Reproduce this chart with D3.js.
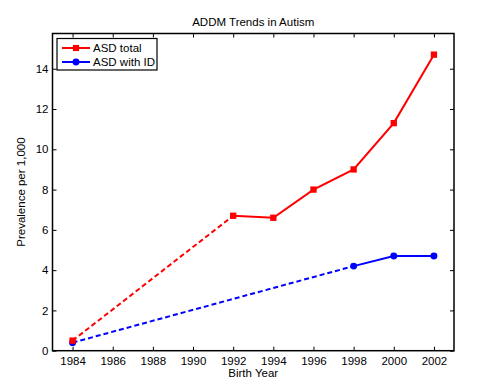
<!DOCTYPE html>
<html><head><meta charset="utf-8">
<script src="https://cdn.jsdelivr.net/npm/d3@7"></script>
<style>body{margin:0;background:#fff;} svg{display:block;font-family:"Liberation Sans",Arial,sans-serif;}</style>
</head><body>
<svg id="c" width="499" height="390"></svg>
<script>
const totalYears = [1984, 1992, 1994, 1996, 1998, 2000, 2002];
const totalValues = [0.5, 6.7, 6.6, 8.0, 9.0, 11.3, 14.7];
const idYears = [1984, 1998, 2000, 2002];
const idValues = [0.4, 4.2, 4.7, 4.7];
const xTicks = [1984, 1986, 1988, 1990, 1992, 1994, 1996, 1998, 2000, 2002];
const yTicks = [0, 2, 4, 6, 8, 10, 12, 14];
const seriesNames = ["ASD total", "ASD with ID"];

const svg = d3.select("#c");
const L = 52.5, R = 454, T = 33.5, B = 350.7;
const x = d3.scaleLinear().domain([1983, 2003]).range([L, R]);
const y = d3.scaleLinear().domain([0, 15.75]).range([B, T]);

const total = totalYears.map((d, i) => ({x: d, y: totalValues[i]}));
const idd = idYears.map((d, i) => ({x: d, y: idValues[i]}));
const line = d3.line().x(d => x(d.x)).y(d => y(d.y));

// axes
const fs = 11.5;
svg.append("g").attr("transform", `translate(0,${B})`)
  .call(d3.axisBottom(x).tickValues(xTicks).tickFormat(d3.format("d")).tickSizeInner(-4).tickSizeOuter(0).tickPadding(6))
  .call(g => { g.select(".domain").remove(); g.selectAll("text").attr("font-size", fs).attr("fill", "#000").attr("font-family", "inherit"); g.selectAll("line").attr("stroke", "#000"); });
svg.append("g").attr("transform", `translate(0,${T})`)
  .call(d3.axisTop(x).tickValues(xTicks).tickFormat("").tickSizeInner(-4).tickSizeOuter(0))
  .call(g => { g.select(".domain").remove(); g.selectAll("line").attr("stroke", "#000"); });
svg.append("g").attr("transform", `translate(${L},0)`)
  .call(d3.axisLeft(y).tickValues(yTicks).tickFormat(d3.format("d")).tickSizeInner(-4).tickSizeOuter(0).tickPadding(4))
  .call(g => { g.select(".domain").remove(); g.selectAll("text").attr("font-size", fs).attr("fill", "#000").attr("font-family", "inherit"); g.selectAll("line").attr("stroke", "#000"); });
svg.append("g").attr("transform", `translate(${R},0)`)
  .call(d3.axisRight(y).tickValues(yTicks).tickFormat("").tickSizeInner(-4).tickSizeOuter(0))
  .call(g => { g.select(".domain").remove(); g.selectAll("line").attr("stroke", "#000"); });
svg.append("rect").attr("x", L).attr("y", T).attr("width", R - L).attr("height", B - T)
  .attr("fill", "none").attr("stroke", "#000").attr("stroke-width", 1.5);

// series
function drawSeries(data, splitIdx, color, shape) {
  svg.append("path").datum(data.slice(0, splitIdx + 1)).attr("d", line)
    .attr("fill", "none").attr("stroke", color).attr("stroke-width", 2).attr("stroke-dasharray", "5,3");
  svg.append("path").datum(data.slice(splitIdx)).attr("d", line)
    .attr("fill", "none").attr("stroke", color).attr("stroke-width", 2);
  const sym = d3.symbol().type(shape === "square" ? d3.symbolSquare : d3.symbolCircle).size(shape === "square" ? 40 : 38);
  svg.selectAll(null).data(data).enter().append("path")
    .attr("d", sym).attr("transform", d => `translate(${x(d.x)},${y(d.y)})`).attr("fill", color);
}
drawSeries(idd, 1, "#0000ff", "circle");
drawSeries(total, 1, "#ff0000", "square");

// title and labels
svg.append("text").attr("x", (L + R) / 2).attr("y", 26).attr("text-anchor", "middle").attr("font-size", 11.5).text("ADDM Trends in Autism");
svg.append("text").attr("x", (L + R) / 2).attr("y", 377).attr("text-anchor", "middle").attr("font-size", 11.5).text("Birth Year");
svg.append("text").attr("transform", `translate(25,${(T + B) / 2}) rotate(-90)`).attr("text-anchor", "middle").attr("font-size", 11.5).text("Prevalence per 1,000");

// legend
const lg = svg.append("g");
lg.append("rect").attr("x", 57).attr("y", 38.5).attr("width", 100).attr("height", 31.5).attr("fill", "#fff").attr("stroke", "#000").attr("stroke-width", 1.2);
const lgColors = ["#ff0000", "#0000ff"];
const lgShapes = [d3.symbolSquare, d3.symbolCircle];
seriesNames.forEach((n, i) => {
  const yy = 48 + i * 14;
  lg.append("line").attr("x1", 62).attr("x2", 90).attr("y1", yy).attr("y2", yy).attr("stroke", lgColors[i]).attr("stroke-width", 2);
  lg.append("path").attr("d", d3.symbol().type(lgShapes[i]).size(38)()).attr("transform", `translate(76,${yy})`).attr("fill", lgColors[i]);
  lg.append("text").attr("x", 93).attr("y", yy + 4).attr("font-size", 11.5).text(n);
});
</script>
</body></html>
